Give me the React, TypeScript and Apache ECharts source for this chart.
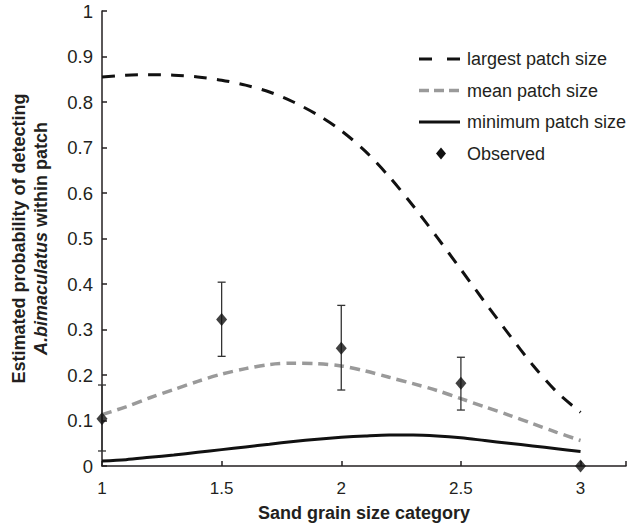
import React, { useEffect, useRef } from "react";
import * as echarts from "echarts";

// Sand grain size category (model curve sample points)
const xs = [1, 1.1, 1.2, 1.3, 1.4, 1.5, 1.6, 1.7, 1.8, 1.9, 2, 2.1, 2.2, 2.3, 2.4, 2.5, 2.6, 2.7, 2.8, 2.9, 3];
const largest = [0.855, 0.859, 0.86, 0.859, 0.855, 0.848, 0.837, 0.822, 0.8, 0.772, 0.737, 0.692, 0.636, 0.572, 0.503, 0.432, 0.36, 0.29, 0.222, 0.163, 0.118];
const mean = [0.113, 0.13, 0.15, 0.168, 0.186, 0.202, 0.214, 0.223, 0.226, 0.225, 0.22, 0.209, 0.195, 0.181, 0.166, 0.148, 0.13, 0.112, 0.093, 0.074, 0.056];
const minimum = [0.011, 0.014, 0.019, 0.024, 0.03, 0.036, 0.042, 0.048, 0.054, 0.059, 0.063, 0.066, 0.068, 0.068, 0.066, 0.062, 0.056, 0.05, 0.044, 0.038, 0.032];

// Observed detection probabilities with error bars
const obsX = [1, 1.5, 2, 2.5, 3];
const obsY = [0.104, 0.322, 0.259, 0.182, 0];
const errX = [1, 1.5, 2, 2.5];
const errLow = [0.033, 0.241, 0.167, 0.123];
const errHigh = [0.178, 0.404, 0.353, 0.239];

const seriesNames = ["largest patch size", "mean patch size", "minimum patch size", "Observed"];

const FONT = "'Liberation Sans', Arial, Helvetica, sans-serif";
const INK = "#231f20";
const BLACK = "#111111";
const GRAY = "#9a9a9a";

const lineStyles = [
  { color: BLACK, width: 3, dash: [13, 15] as number[] | null },
  { color: GRAY, width: 3.5, dash: [10, 5] as number[] | null },
  { color: BLACK, width: 3, dash: null as number[] | null },
];

function buildLegend() {
  const children: any[] = [];
  seriesNames.forEach((name, i) => {
    const y = 59 + i * 31.5;
    if (i < 3) {
      const s = lineStyles[i];
      children.push({
        type: "line",
        shape: { x1: 419, y1: y, x2: 460, y2: y },
        style: { stroke: s.color, lineWidth: s.width, lineDash: s.dash || undefined },
      });
    } else {
      children.push({
        type: "polygon",
        shape: { points: [[441, y - 6], [446, y], [441, y + 6], [436, y]] },
        style: { fill: BLACK },
      });
    }
    children.push({
      type: "text",
      x: 467,
      y,
      style: { text: name, fontSize: 18, fill: INK, fontFamily: FONT, verticalAlign: "middle", align: "left" },
    });
  });
  return children;
}

export default function App() {
  const ref = useRef<HTMLDivElement>(null);
  useEffect(() => {
    if (!ref.current) return;
    const chart = echarts.init(ref.current, null, { renderer: "svg" });
    const pair = (ys: number[]) => xs.map((x, i) => [x, ys[i]]);
    chart.setOption({
      animation: false,
      backgroundColor: "#ffffff",
      textStyle: { fontFamily: FONT },
      grid: { left: 99, right: 0, top: 11, bottom: 63, containLabel: false },
      graphic: buildLegend(),
      xAxis: {
        type: "value",
        min: 1,
        max: 3.19,
        interval: 0.5,
        name: "Sand grain size category",
        nameLocation: "middle",
        nameGap: 38,
        nameTextStyle: { fontSize: 18, fontWeight: "bold", color: INK, fontFamily: FONT },
        axisLine: { lineStyle: { color: INK, width: 1.5 } },
        axisTick: { inside: true, length: 5, lineStyle: { color: INK, width: 1.5 } },
        axisLabel: {
          fontSize: 17,
          color: INK,
          margin: 14,
          fontFamily: FONT,
          formatter: (v: number) => (Math.abs(v * 2 - Math.round(v * 2)) < 1e-6 ? String(v) : ""),
        },
        splitLine: { show: false },
      },
      yAxis: {
        type: "value",
        min: 0,
        max: 1,
        interval: 0.1,
        name: "Estimated probability of detecting\n{i|A.bimaculatus} within patch",
        nameLocation: "middle",
        nameGap: 50,
        nameTextStyle: {
          fontSize: 18,
          fontWeight: "bold",
          color: INK,
          lineHeight: 22,
          fontFamily: FONT,
          rich: {
            i: { fontSize: 18, fontWeight: "bold", fontStyle: "italic", color: INK, lineHeight: 22, fontFamily: FONT },
          },
        },
        axisLine: { show: true, lineStyle: { color: INK, width: 1.5 } },
        axisTick: { show: true, inside: true, length: 5, lineStyle: { color: INK, width: 1.5 } },
        axisLabel: { fontSize: 18.5, color: INK, margin: 9, fontFamily: FONT },
        splitLine: { show: false },
      },
      series: [
        ...[largest, mean, minimum].map((ys, i) => ({
          name: seriesNames[i],
          type: "line",
          data: pair(ys),
          symbol: "none",
          smooth: 0.3,
          lineStyle: {
            color: lineStyles[i].color,
            width: lineStyles[i].width,
            type: lineStyles[i].dash ? [lineStyles[i].dash![0], i === 0 ? 10 : 6] : "solid",
          },
          itemStyle: { color: lineStyles[i].color },
          z: 3,
        })),
        {
          type: "custom",
          name: "error",
          data: errX.map((x, i) => [x, errLow[i], errHigh[i]]),
          encode: { x: 0, y: [1, 2] },
          clip: false,
          z: 4,
          renderItem: (params: any, api: any) => {
            const x = api.value(0);
            const top = api.coord([x, api.value(2)]);
            const bot = api.coord([x, api.value(1)]);
            const w = 4;
            const st = { stroke: "#333333", lineWidth: 1.3 };
            return {
              type: "group",
              children: [
                { type: "line", shape: { x1: top[0], y1: top[1], x2: bot[0], y2: bot[1] }, style: st },
                { type: "line", shape: { x1: top[0] - w, y1: top[1], x2: top[0] + w, y2: top[1] }, style: st },
                { type: "line", shape: { x1: bot[0] - w, y1: bot[1], x2: bot[0] + w, y2: bot[1] }, style: st },
              ],
            };
          },
        },
        {
          name: seriesNames[3],
          type: "scatter",
          data: obsX.map((x, i) => [x, obsY[i]]),
          symbol: "diamond",
          symbolSize: [11, 13],
          itemStyle: { color: BLACK },
          z: 5,
        },
      ],
    });
    return () => chart.dispose();
  }, []);
  return (
    <div
      ref={ref}
      style={{ position: "fixed", left: 0, top: 0, width: 629, height: 529, background: "#fff" }}
    />
  );
}
